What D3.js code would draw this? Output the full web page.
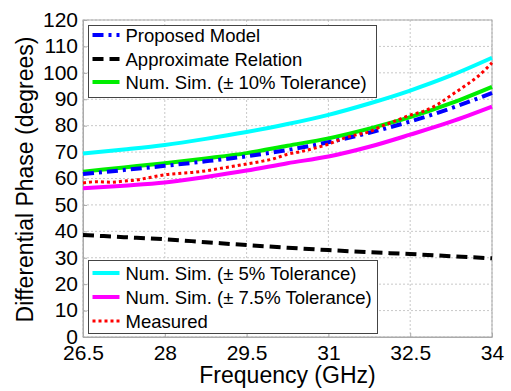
<!DOCTYPE html>
<html>
<head>
<meta charset="utf-8">
<script src="https://cdn.jsdelivr.net/npm/d3@7"></script>
<style>
  body { margin: 0; background: #fff; }
  svg text { font-family: "Liberation Sans", Arial, sans-serif; fill: #000; }
</style>
</head>
<body>
<div id="chart"></div>
<script>
// frequency grid (GHz) used for the simulated / model curves
const freqs = [26.5, 27.25, 28, 28.75, 29.5, 30.25, 31, 31.75, 32.5, 33.25, 34];

const proposedModel = [61.7, 63.2, 64.8, 66.5, 68.4, 70.8, 73.7, 77.3, 81.6, 86.6, 92.4];
const approxRelation = [38.6, 37.8, 37.0, 35.9, 34.8, 33.8, 32.9, 32.1, 31.4, 30.6, 29.8];
const sim10 = [62.6, 64.2, 65.8, 67.6, 69.6, 72.4, 75.2, 78.9, 83.2, 88.5, 94.7];
const sim5 = [69.5, 71.0, 72.7, 75.0, 77.6, 80.6, 84.1, 88.4, 93.3, 99.0, 105.7];
const sim75 = [56.3, 57.3, 58.5, 60.6, 63.0, 65.8, 68.3, 72.0, 76.6, 81.5, 87.2];

// measured data is finer
const measFreqs = [26.5, 26.75, 27, 27.25, 27.5, 27.75, 28, 28.25, 28.5, 28.75, 29, 29.25,
  29.5, 29.75, 30, 30.25, 30.5, 30.75, 31, 31.25, 31.5, 31.75, 32, 32.25, 32.5, 32.75,
  33, 33.25, 33.5, 33.75, 34];
const measured = [58.3, 58.8, 58.6, 59.0, 59.5, 60.5, 61.4, 61.9, 62.3, 62.9, 63.8, 64.6,
  65.5, 66.4, 67.5, 69.2, 70.2, 71.5, 73.0, 75.0, 76.5, 77.7, 80.0, 82.0, 84.0, 85.5,
  88.0, 91.5, 95.0, 98.8, 103.8];

const xTicks = [26.5, 28, 29.5, 31, 32.5, 34];
const yTicks = [0, 10, 20, 30, 40, 50, 60, 70, 80, 90, 100, 110, 120];

const config = {
  width: 511,
  height: 391,
  margin: { top: 20, right: 19, bottom: 54, left: 83 },
};
const innerW = config.width - config.margin.left - config.margin.right;
const innerH = config.height - config.margin.top - config.margin.bottom;

const series = [
  { name: "Num. Sim. (\u00b1 5% Tolerance)", x: freqs, y: sim5, color: "#00ffff", width: 4, dash: null },
  { name: "Num. Sim. (\u00b1 7.5% Tolerance)", x: freqs, y: sim75, color: "#ff00ff", width: 4, dash: null },
  { name: "Num. Sim. (\u00b1 10% Tolerance)", x: freqs, y: sim10, color: "#00ee00", width: 4, dash: null },
  { name: "Proposed Model", x: freqs, y: proposedModel, color: "#0000ff", width: 4, dash: "11,5,3,5" },
  { name: "Approximate Relation", x: freqs, y: approxRelation, color: "#000000", width: 4, dash: "11,6" },
  { name: "Measured", x: measFreqs, y: measured, color: "#ff0000", width: 3, dash: "3,3" },
];

const svg = d3.select("#chart")
  .append("svg")
  .attr("width", config.width)
  .attr("height", config.height);

const g = svg.append("g")
  .attr("transform", `translate(${config.margin.left},${config.margin.top})`);

const x = d3.scaleLinear().domain([26.5, 34]).range([0, innerW]);
const y = d3.scaleLinear().domain([0, 120]).range([innerH, 0]);

// grid
g.append("g").selectAll("line.vgrid")
  .data(xTicks)
  .join("line")
  .attr("x1", d => x(d)).attr("x2", d => x(d))
  .attr("y1", 0).attr("y2", innerH)
  .attr("stroke", "#c8c8c8").attr("stroke-width", 1).attr("stroke-dasharray", "2,2");
g.append("g").selectAll("line.hgrid")
  .data(yTicks)
  .join("line")
  .attr("x1", 0).attr("x2", innerW)
  .attr("y1", d => y(d)).attr("y2", d => y(d))
  .attr("stroke", "#c8c8c8").attr("stroke-width", 1).attr("stroke-dasharray", "2,2");

// axes
const xAxis = g.append("g")
  .attr("transform", `translate(0,${innerH})`)
  .call(d3.axisBottom(x).tickValues(xTicks).tickFormat(d3.format("")).tickSizeInner(-4).tickSizeOuter(0).tickPadding(8));
const yAxis = g.append("g")
  .call(d3.axisLeft(y).tickValues(yTicks).tickSizeInner(-4).tickSizeOuter(0).tickPadding(5));

[xAxis, yAxis].forEach(a => {
  a.selectAll("text").style("font-size", "21px").style("font-family", "Liberation Sans, Arial, sans-serif");
  a.selectAll("line").attr("stroke", "#aaa");
  a.select(".domain").attr("stroke", "#aaa");
});
xAxis.selectAll("text").attr("dy", "0.71em");
yAxis.selectAll("text").attr("dy", "0.3em");

// box
g.append("rect")
  .attr("width", innerW).attr("height", innerH)
  .attr("fill", "none").attr("stroke", "#aaa").attr("stroke-width", 1);

// lines
const line = d3.line()
  .x(d => x(d[0]))
  .y(d => y(d[1]))
  .curve(d3.curveMonotoneX);

g.selectAll("path.series")
  .data(series)
  .join("path")
  .attr("class", "series")
  .attr("d", d => line(d.x.map((f, i) => [f, d.y[i]])))
  .attr("fill", "none")
  .attr("stroke", d => d.color)
  .attr("stroke-width", d => d.width)
  .attr("stroke-dasharray", d => d.dash);

// axis labels
svg.append("text")
  .attr("x", config.margin.left + innerW / 2)
  .attr("y", 383)
  .attr("text-anchor", "middle")
  .style("font-size", "23px")
  .text("Frequency (GHz)");

svg.append("text")
  .attr("transform", `translate(33,${config.margin.top + innerH / 2 + 1}) rotate(-90)`)
  .attr("text-anchor", "middle")
  .style("font-size", "23px")
  .text("Differential Phase (degrees)");

// legends
function drawLegend(items, box, rowY) {
  const lg = svg.append("g").attr("class", "legend");
  lg.append("rect")
    .attr("x", box.x).attr("y", box.y)
    .attr("width", box.w).attr("height", box.h)
    .attr("fill", "#fff").attr("stroke", "#444").attr("stroke-width", 1);
  const rows = lg.selectAll("g.row")
    .data(items)
    .join("g")
    .attr("class", "row")
    .attr("transform", (d, i) => `translate(0,${rowY[i]})`);
  rows.append("line")
    .attr("x1", box.x + 4).attr("x2", box.x + 31)
    .attr("y1", 0).attr("y2", 0)
    .attr("stroke", d => d.color)
    .attr("stroke-width", d => d.width)
    .attr("stroke-dasharray", d => d.dash);
  rows.append("text")
    .attr("x", box.x + 37)
    .attr("y", 7)
    .style("font-size", "18.5px")
    .text(d => d.name);
}

const byName = n => series.find(s => s.name === n);
drawLegend(
  [byName("Proposed Model"), byName("Approximate Relation"), byName("Num. Sim. (\u00b1 10% Tolerance)")],
  { x: 88.5, y: 25.5, w: 288, h: 72 },
  [35, 59, 82]
);
drawLegend(
  [byName("Num. Sim. (\u00b1 5% Tolerance)"), byName("Num. Sim. (\u00b1 7.5% Tolerance)"), byName("Measured")],
  { x: 88.5, y: 260.5, w: 289, h: 73 },
  [273, 297, 321]
);
</script>
</body>
</html>
